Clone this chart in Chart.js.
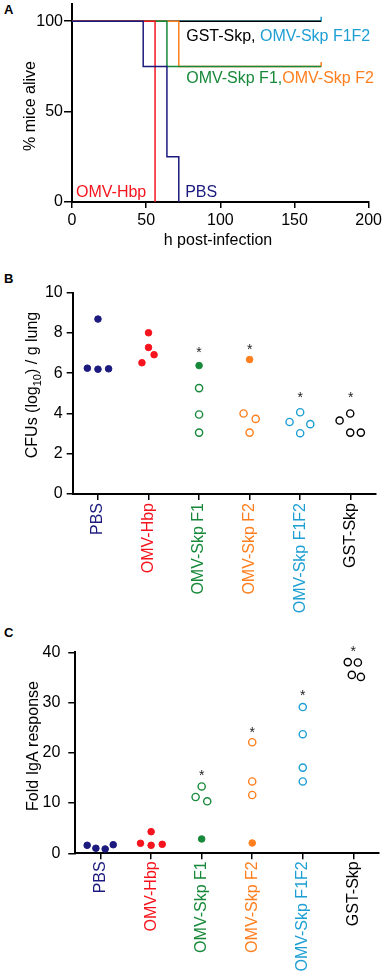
<!DOCTYPE html>
<html>
<head>
<meta charset="utf-8">
<script src="https://cdn.jsdelivr.net/npm/chart.js@4.4.1/dist/chart.umd.min.js"></script>
<style>
  body { margin: 0; background: #fff; width: 385px; height: 975px; overflow: hidden; position: relative; font-family: "Liberation Sans", Arial, sans-serif; }
  canvas { position: absolute; left: 0; }
  .tag { position: absolute; left: 4px; font-weight: bold; font-size: 13px; line-height: 13px; }
</style>
</head>
<body>
<div class="tag" style="top:3px">A</div>
<div class="tag" style="top:272px">B</div>
<div class="tag" style="top:626px">C</div>
<canvas id="survChart" width="385" height="275" style="top:-20px"></canvas>
<canvas id="cfuChart" width="385" height="380" style="top:250px"></canvas>
<canvas id="igaChart" width="385" height="345" style="top:630px"></canvas>
<script>
// ---- data ----
const groups = ['PBS', 'OMV-Hbp', 'OMV-Skp F1', 'OMV-Skp F2', 'OMV-Skp F1F2', 'GST-Skp'];

// panel A, survival (h post-infection, % alive)
const survTimePBS = [0, 48, 64, 72];      const survPBS = [100, 75, 25, 0];
const survTimeHbp = [0, 56];              const survHbp = [100, 0];
const survTimeF1 = [0, 64, 168];          const survF1 = [100, 75, 75];
const survTimeF2 = [0, 72, 168];          const survF2 = [100, 75, 75];
const survTimeGST = [0, 168];             const survGST = [100, 100];
const survTimeF1F2 = [0, 168];            const survF1F2 = [100, 100];

// panel B, CFUs (log10) / g lung, per mouse; dx = spread inside the column
const cfuPBS = [6.25, 8.69, 6.20, 6.22];   const cfuPBSdx = [-0.21, 0, 0, 0.21];
const cfuHbp = [6.52, 8.01, 7.28, 6.92];   const cfuHbpdx = [-0.13, 0, 0, 0.11];
const cfuF1 = [6.38, 5.26, 3.95, 3.05];    const cfuF1dx = [0, 0, 0, 0];
const cfuF2 = [6.68, 4.00, 3.73, 3.05];    const cfuF2dx = [0, -0.12, 0.12, 0];
const cfuF1F2 = [3.58, 4.06, 3.47, 3.02];  const cfuF1F2dx = [-0.21, 0, 0.2, 0];
const cfuGST = [3.65, 4.00, 3.05, 3.05];   const cfuGSTdx = [-0.22, -0.01, -0.01, 0.2];
const cfuFilled = [4, 4, 1, 1, 0, 0];      // first n mice of each group did not survive
const cfuStars = [null, null, 7.2, 7.33, 4.96, 4.96];

// panel C, fold IgA response
const igaPBS = [1.59, 1.0, 0.86, 1.71];    const igaPBSdx = [-0.265, -0.093, 0.091, 0.25];
const igaHbp = [1.99, 4.3, 1.59, 1.79];    const igaHbpdx = [-0.21, 0, 0, 0.22];
const igaF1 = [2.85, 11.2, 13.3, 10.35];   const igaF1dx = [0, -0.12, 0, 0.11];
const igaF2 = [2.05, 22.1, 14.3, 11.6];    const igaF2dx = [0, 0, 0, 0];
const igaF1F2 = [29.1, 23.7, 17.05, 14.3]; const igaF1F2dx = [0, 0, 0, 0];
const igaGST = [38.05, 37.97, 35.5, 35.1]; const igaGSTdx = [-0.11, 0.09, -0.03, 0.15];
const igaFilled = [4, 4, 1, 1, 0, 0];
const igaStars = [null, null, 16.1, 24.7, 32.1, 40.9];

// ---- style ----
const navy = '#1c1a7e', red = '#f5141e', green = '#17893a', orange = '#ff7f1e', cyan = '#1e9fd4', black = '#000';
const groupColors = [navy, red, green, orange, cyan, black];
const FONT = '"Liberation Sans", Arial, sans-serif';

Chart.defaults.font.family = FONT;
Chart.defaults.font.size = 16;
Chart.defaults.color = '#000';
Chart.defaults.animation = false;

function pts(xs, ys) {
  return xs.map((x, i) => ({ x: x, y: ys[i] }));
}

function axisLook(tickLen, pad) {
  return {
    grid: { drawOnChartArea: false, color: '#000', lineWidth: 1.5, tickLength: tickLen },
    border: { color: '#000', width: 2 },
    ticks: { padding: pad }
  };
}

// draws rotated/plain text made of several parts (for subscript)
function drawParts(ctx, parts, cx, cy, rotate) {
  ctx.save();
  ctx.translate(cx, cy);
  if (rotate) ctx.rotate(-Math.PI / 2);
  let w = 0;
  parts.forEach(p => {
    ctx.font = (p.sub ? 11 : 16) + 'px ' + FONT;
    p.w = ctx.measureText(p.t).width;
    w += p.w;
  });
  let x = -w / 2;
  ctx.textBaseline = 'alphabetic';
  ctx.textAlign = 'left';
  parts.forEach(p => {
    ctx.font = (p.sub ? 11 : 16) + 'px ' + FONT;
    ctx.fillStyle = p.c || '#000';
    ctx.fillText(p.t, x, 5.7 + (p.sub ? 4 : 0));
    x += p.w;
  });
  ctx.restore();
}

const titlePlugin = {
  id: 'titles',
  afterDraw(chart, args, opts) {
    opts.items.forEach(it => drawParts(chart.ctx, it.parts, it.x, it.y, it.rotate));
  }
};

const starPlugin = {
  id: 'stars',
  afterDatasetsDraw(chart, args, opts) {
    if (!opts.values) return;
    const { ctx, scales: { x, y } } = chart;
    ctx.save();
    ctx.fillStyle = '#222';
    ctx.font = '14px ' + FONT;
    ctx.textAlign = 'center';
    ctx.textBaseline = 'alphabetic';
    opts.values.forEach((v, i) => {
      if (v === null) return;
      ctx.fillText('*', x.getPixelForValue(i), y.getPixelForValue(v) + 8);
    });
    ctx.restore();
  }
};

// labels next to the survival curves, placed in data units
const labelPlugin = {
  id: 'curveLabels',
  afterDatasetsDraw(chart, args, opts) {
    const { ctx, scales: { x, y } } = chart;
    ctx.save();
    ctx.font = '16px ' + FONT;
    ctx.textBaseline = 'alphabetic';
    opts.items.forEach(it => {
      let px = x.getPixelForValue(it.x);
      const py = y.getPixelForValue(it.y);
      it.parts.forEach(p => {
        ctx.fillStyle = p.c;
        ctx.fillText(p.t, px, py);
        px += ctx.measureText(p.t).width;
      });
    });
    ctx.restore();
  }
};

// ---- panel A ----
function survSet(label, xs, ys, color, censor) {
  const last = xs.length - 1;
  return {
    label: label,
    data: pts(xs, ys),
    borderColor: color,
    borderWidth: 1.5,
    stepped: true,
    fill: false,
    pointStyle: 'dash',
    pointRotation: -90,
    pointBorderColor: color,
    pointBorderWidth: 1.5,
    pointRadius: c => (censor && c.dataIndex === last) ? 4.5 : 0
  };
}

const ax = axisLook(6, 3), ay = axisLook(8, 1);
new Chart(document.getElementById('survChart'), {
  type: 'line',
  data: {
    datasets: [
      survSet('PBS', survTimePBS, survPBS, navy, false),
      survSet('OMV-Hbp', survTimeHbp, survHbp, red, false),
      survSet('OMV-Skp F1', survTimeF1, survF1, green, false),
      survSet('OMV-Skp F2', survTimeF2, survF2, orange, true),
      survSet('GST-Skp', survTimeGST, survGST, black, false),
      survSet('OMV-Skp F1F2', survTimeF1F2, survF1F2, cyan, true)
    ]
  },
  options: {
    responsive: false,
    devicePixelRatio: 1,
    layout: { padding: { top: 24, right: 14, left: 0, bottom: 0 } },
    scales: {
      x: {
        type: 'linear', min: 0, max: 200,
        ticks: { stepSize: 50, padding: ax.ticks.padding },
        grid: ax.grid, border: ax.border,
        afterFit: s => { s.height = 53; }
      },
      y: {
        type: 'linear', min: 0, max: 109.5,
        afterBuildTicks: s => { s.ticks = [0, 50, 100].map(v => ({ value: v })); },
        ticks: { padding: ay.ticks.padding },
        grid: ay.grid, border: ay.border,
        afterFit: s => { s.width = 72; }
      }
    },
    plugins: {
      legend: { display: false },
      tooltip: { enabled: false },
      curveLabels: {
        items: [
          { x: 77, y: 89, parts: [{ t: 'GST-Skp, ', c: black }, { t: 'OMV-Skp F1F2', c: cyan }] },
          { x: 77, y: 65.7, parts: [{ t: 'OMV-Skp F1,', c: green }, { t: 'OMV-Skp F2', c: orange }] },
          { x: 2.7, y: 2.8, parts: [{ t: 'OMV-Hbp', c: red }] },
          { x: 76.3, y: 2.8, parts: [{ t: 'PBS', c: navy }] }
        ]
      },
      titles: {
        items: [
          { parts: [{ t: '% mice alive' }], x: 29, y: 126, rotate: true },
          { parts: [{ t: 'h post-infection' }], x: 218, y: 259, rotate: false }
        ]
      }
    }
  },
  plugins: [labelPlugin, titlePlugin]
});

// ---- panels B and C ----
function dotSets(vals, dxs, filledCounts) {
  const sets = [];
  vals.forEach((v, g) => {
    const filled = [], open = [];
    v.forEach((val, k) => {
      const p = { x: g + dxs[g][k], y: val };
      (k < filledCounts[g] ? filled : open).push(p);
    });
    if (filled.length) sets.push({
      data: filled, pointBackgroundColor: groupColors[g], pointBorderColor: groupColors[g],
      pointRadius: 3.3, pointBorderWidth: 1
    });
    if (open.length) sets.push({
      data: open, pointBackgroundColor: 'rgba(0,0,0,0)', pointBorderColor: groupColors[g],
      pointRadius: 3.6, pointBorderWidth: 1.4
    });
  });
  return sets;
}

function groupAxis(height, tickLen, pad) {
  const a = axisLook(tickLen, pad);
  return {
    type: 'linear', min: -0.5, max: 5.5,
    afterBuildTicks: s => { s.ticks = groups.map((g, i) => ({ value: i })); },
    ticks: {
      padding: a.ticks.padding, autoSkip: false, minRotation: 90, maxRotation: 90,
      callback: v => groups[v],
      color: c => groupColors[c.index]
    },
    grid: a.grid, border: a.border,
    afterFit: s => { s.height = height; }
  };
}

function dotChart(id, sets, opts) {
  const a = axisLook(opts.yTick, opts.yPad);
  return new Chart(document.getElementById(id), {
    type: 'scatter',
    data: { datasets: sets },
    options: {
      responsive: false,
      devicePixelRatio: 1,
      layout: { padding: { top: opts.top, right: opts.right, left: 0, bottom: 0 } },
      scales: {
        x: groupAxis(opts.xHeight, 6, opts.xPad),
        y: {
          type: 'linear', min: 0, max: opts.yMax,
          ticks: { stepSize: opts.yStep, padding: a.ticks.padding },
          grid: a.grid, border: a.border,
          afterFit: s => { s.width = opts.yWidth; }
        }
      },
      plugins: {
        legend: { display: false },
        tooltip: { enabled: false },
        stars: { values: opts.stars },
        titles: { items: [{ parts: opts.title, x: opts.titleX, y: opts.titleY, rotate: true }] }
      }
    },
    plugins: [starPlugin, titlePlugin]
  });
}

dotChart('cfuChart',
  dotSets([cfuPBS, cfuHbp, cfuF1, cfuF2, cfuF1F2, cfuGST],
          [cfuPBSdx, cfuHbpdx, cfuF1dx, cfuF2dx, cfuF1F2dx, cfuGSTdx], cfuFilled),
  {
    top: 42.7, right: 9, xHeight: 136, xPad: 3, yWidth: 72.7, yTick: 6, yPad: 4,
    yMax: 10, yStep: 2, stars: cfuStars,
    title: [{ t: 'CFUs (log' }, { t: '10', sub: true }, { t: ') / g lung' }],
    titleX: 31, titleY: 135
  });

dotChart('igaChart',
  dotSets([igaPBS, igaHbp, igaF1, igaF2, igaF1F2, igaGST],
          [igaPBSdx, igaHbpdx, igaF1dx, igaF2dx, igaF1F2dx, igaGSTdx], igaFilled),
  {
    top: 22.3, right: 6.4, xHeight: 121.7, xPad: 2, yWidth: 75.3, yTick: 7, yPad: 8,
    yMax: 40, yStep: 10, stars: igaStars,
    title: [{ t: 'Fold IgA response' }],
    titleX: 32, titleY: 116
  });
</script>
</body>
</html>
